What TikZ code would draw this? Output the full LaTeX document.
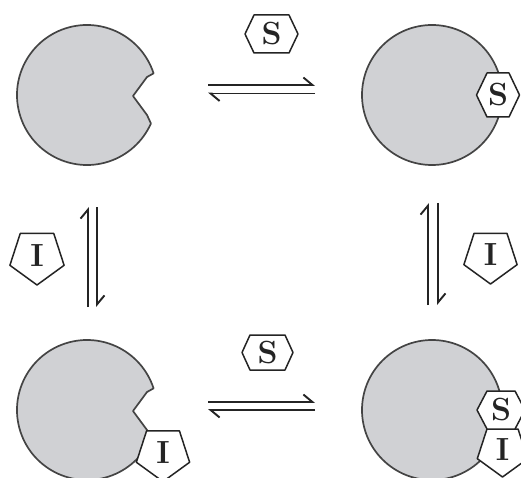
\documentclass[tikz,border=0pt]{standalone}
\usetikzlibrary{arrows.meta,calc}
\definecolor{enzymefill}{RGB}{208,209,212}
\definecolor{enzymeline}{RGB}{68,68,68}
\definecolor{ink}{RGB}{36,36,36}
\tikzset{
  enzyme/.style={fill=enzymefill, draw=enzymeline, line width=1.7pt, line join=round},
  ligand/.style={fill=white, draw=ink, line width=1.5pt, line join=round},
  letter/.style={font=\fontsize{32}{32}\selectfont\bfseries, inner sep=0pt, text=ink},
  eqarrow/.style={line width=1.9pt, draw=ink, -{Straight Barb[harpoon,length=9pt,width=15pt]}},
}
% substrate: hexagon with points left/right
% #1 name, #2 x, #3 y, #4 half width, #5 half top edge, #6 half height
\newcommand\substratehex[6]{%
  \begin{scope}[shift={(#2,#3)}]
    \draw[ligand] (-#4,0) -- (-#5,#6) -- (#5,#6) -- (#4,0) -- (#5,-#6) -- (-#5,-#6) -- cycle;
    \node[letter] (#1) at (0,0) {S};
  \end{scope}}
% inhibitor: pentagon pointing down
% #1 name, #2 x, #3 y, #4 radius
\newcommand\inhibitorpent[4]{%
  \begin{scope}[shift={(#2,#3)}]
    \draw[ligand] (54:#4) -- (126:#4) -- (198:#4) -- (270:#4) -- (342:#4) -- cycle;
    \node[letter] (#1) at (0,1) {I};
  \end{scope}}
% enzyme with an open active-site notch on its right side
\newcommand\notchedenzyme[2]{%
  \begin{scope}[shift={(#1,#2)}]
    \draw[enzyme] (-24:70) -- (60,-20) -- (46,-1) -- (60,18) -- (18:70)
      arc[start angle=18, end angle=336, radius=70] -- cycle;
  \end{scope}}
\begin{document}
\begin{tikzpicture}[x=1pt,y=1pt]
  \useasboundingbox (0,0) rectangle (521,477);
  \clip (0,0) rectangle (521,477);

  % free enzyme E
  \notchedenzyme{87}{382}
  % enzyme-substrate complex ES
  \draw[enzyme] (432,382) circle[radius=70];
  \substratehex{sES}{498}{382}{21.5}{11}{22}
  % enzyme-inhibitor complex EI
  \notchedenzyme{87}{67}
  \inhibitorpent{iEI}{163}{23.4}{28}
  % ternary complex ESI
  \draw[enzyme] (432,67) circle[radius=70];
  \inhibitorpent{iESI}{502.5}{26.5}{26.5}
  \substratehex{sESI}{501}{67}{24}{14}{19}

  % free ligands beside the arrows
  \substratehex{sTop}{271.5}{443}{26.5}{17.5}{19}
  \substratehex{sBot}{267.5}{124.5}{25.5}{17.5}{17.5}
  \inhibitorpent{iLeft}{37}{220.5}{28.5}
  \inhibitorpent{iRight}{490.5}{221}{28}

  % equilibrium arrow end points
  \coordinate (tA) at (208,392);   \coordinate (tB) at (315,392);
  \coordinate (tC) at (315,383.5); \coordinate (tD) at (208,383.5);
  \coordinate (bA) at (208,75);    \coordinate (bB) at (315,75);
  \coordinate (bC) at (315,67);    \coordinate (bD) at (208,67);
  \coordinate (lA) at (88,170);    \coordinate (lB) at (88,270);
  \coordinate (lC) at (97,270);    \coordinate (lD) at (97,170);
  \coordinate (rA) at (428,172);   \coordinate (rB) at (428,274);
  \coordinate (rC) at (438,274);   \coordinate (rD) at (438,172);

  \draw[eqarrow] (tA) -- (tB);
  \draw[eqarrow] (tC) -- (tD);
  \draw[eqarrow] (bA) -- (bB);
  \draw[eqarrow] (bC) -- (bD);
  \draw[eqarrow] (lA) -- (lB);
  \draw[eqarrow] (lC) -- (lD);
  \draw[eqarrow] (rA) -- (rB);
  \draw[eqarrow] (rC) -- (rD);
\end{tikzpicture}
\end{document}
